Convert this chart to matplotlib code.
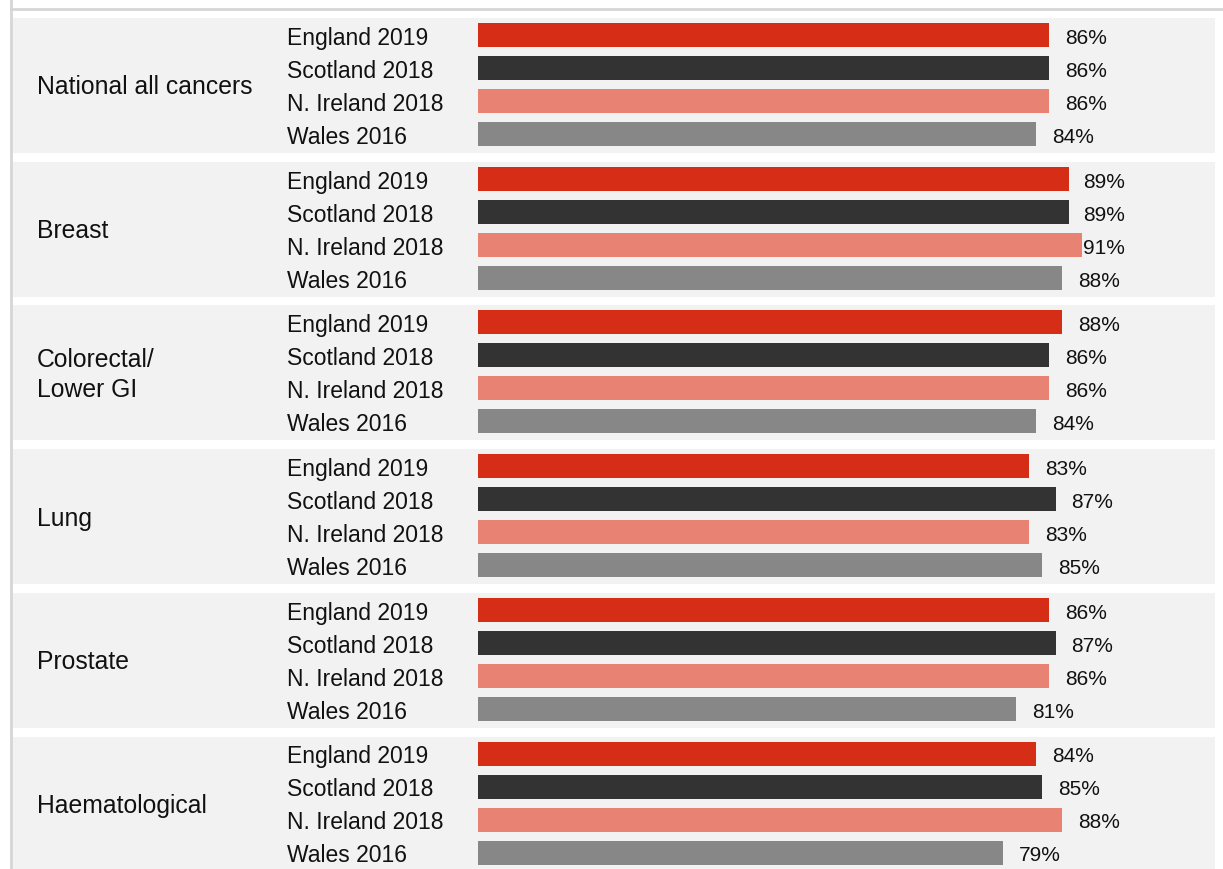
import numpy as np
import matplotlib.pyplot as plt

plt.rcParams['font.family'] = ['Liberation Sans', 'DejaVu Sans']

cancer_types = ["National all cancers", "Breast", "Colorectal/\nLower GI",
                "Lung", "Prostate", "Haematological"]
nations = ["England 2019", "Scotland 2018", "N. Ireland 2018", "Wales 2016"]
nation_colors = ["#d62d16", "#333333", "#e88272", "#878787"]

# percentage scoring care positively, one row per cancer type, columns follow nations
all_cancers = [86, 86, 86, 84]
breast = [89, 89, 91, 88]
colorectal = [88, 86, 86, 84]
lung = [83, 87, 83, 85]
prostate = [86, 87, 86, 81]
haematological = [84, 85, 88, 79]
values = [all_cancers, breast, colorectal, lung, prostate, haematological]

W, H = 1223, 870
fig = plt.figure(figsize=(W / 100, H / 100), dpi=100)
ax = fig.add_axes([0, 0, 1, 1])
px = 6.64                       # pixels per percentage point
x0 = 478                        # pixel where 0% sits
ax.set_xlim(-x0 / px, (W - x0) / px)
ax.set_ylim(H, 0)
ax.axis('off')

first_row = 36
group_step = 143.7
row_step = 33
bar_h = 24
label_cap = 91.1                # labels don't go past this point
nudge = 2.5                     # text sits a touch below the bar centre

for g, (name, vals) in enumerate(zip(cancer_types, values)):
    top = first_row + g * group_step
    ys = top + np.arange(len(nations)) * row_step
    # grey panel behind each group
    ax.axhspan(top - 17, ys[-1] + 19, xmin=13 / W, xmax=1215 / W,
               color="#f2f2f2", lw=0, zorder=0)
    ax.barh(ys, vals, height=bar_h, color=nation_colors, zorder=2)
    for y, v, nat in zip(ys, vals, nations):
        ax.text(min(v + 2.4, label_cap), y + nudge, f"{v}%", va='center',
                ha='left', fontsize=15, color="#111111", zorder=3)
        ax.text(287 / W, y + nudge, nat, transform=ax.get_yaxis_transform(),
                va='center', ha='left', fontsize=16.5, color="#111111")
    ax.text(37 / W, (top - 17 + ys[-1] + 19) / 2 + 1, name,
            transform=ax.get_yaxis_transform(), va='center', ha='left',
            fontsize=17.8, color="#111111", linespacing=1.32)

# outer frame lines
ax.axvline(-(x0 - 11) / px, color="#d6d6d6", lw=2, zorder=1)
ax.axhline(10, xmin=11 / W, xmax=1, color="#d6d6d6", lw=2, zorder=1)

fig.savefig("out.png", dpi=100)
